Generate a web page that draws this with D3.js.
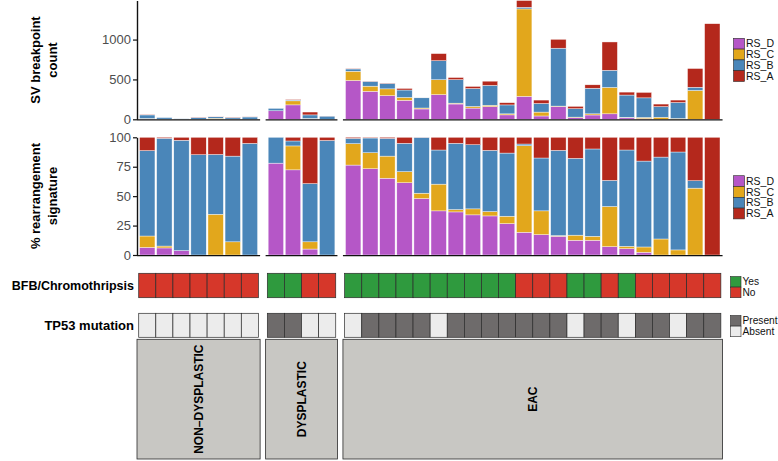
<!DOCTYPE html>
<html><head><meta charset="utf-8">
<script src="https://cdn.jsdelivr.net/npm/d3@7"></script>
<style>
body{margin:0;background:#fff}
svg{display:block}
text{font-family:"Liberation Sans",Arial,Helvetica,sans-serif}
</style>
</head><body><svg id="c" width="778" height="461"></svg>
<script>
// ---------------- DATA ----------------
const groups = ["NON-DYSPLASTIC", "DYSPLASTIC", "EAC"];
const groupLabels = ["NON\u2013DYSPLASTIC", "DYSPLASTIC", "EAC"];
const samples = ["ND1","ND2","ND3","ND4","ND5","ND6","ND7",
  "D1","D2","D3","D4",
  "EAC1","EAC2","EAC3","EAC4","EAC5","EAC6","EAC7","EAC8","EAC9","EAC10","EAC11",
  "EAC12","EAC13","EAC14","EAC15","EAC16","EAC17","EAC18","EAC19","EAC20","EAC21","EAC22"];
const sampleGroup = ["NON-DYSPLASTIC","NON-DYSPLASTIC","NON-DYSPLASTIC","NON-DYSPLASTIC","NON-DYSPLASTIC","NON-DYSPLASTIC","NON-DYSPLASTIC",
  "DYSPLASTIC","DYSPLASTIC","DYSPLASTIC","DYSPLASTIC",
  "EAC","EAC","EAC","EAC","EAC","EAC","EAC","EAC","EAC","EAC","EAC",
  "EAC","EAC","EAC","EAC","EAC","EAC","EAC","EAC","EAC","EAC","EAC"];
const signatures = ["RS_D", "RS_C", "RS_B", "RS_A"];   // bottom -> top
// SV breakpoint counts attributed to each rearrangement signature
const RS_D = [4, 1.5, 0.3, 0, 0, 0, 0,
  106.9, 180.8, 4.6, 0,
  486.7, 350.4, 296.5, 237.6, 129.6, 309, 191.8, 140.5, 158.7, 55.5, 287.6,
  41.7, 159.5, 20.3, 54.1, 68.9, 18.4, 7.8, 0, 0, 0, 0];
const RS_C = [6, 0.4, 0, 0, 12.8, 2.8, 0,
  0, 50.8, 5.6, 0,
  115.9, 65, 85.4, 36.4, 12.2, 187, 10.5, 21, 17.7, 13.1, 1096.6,
  48.7, 6, 7, 14.7, 330.8, 6.8, 15.2, 26, 10.4, 361.8, 0];
const RS_B = [45, 22.9, 7.5, 21.3, 18.8, 18.2, 29.4,
  30.1, 10.5, 45, 39.9,
  28.7, 59.8, 68.6, 93.3, 128, 239, 295, 224.5, 248.6, 111.7, 20.9,
  108.2, 726.2, 105.8, 320.9, 215.3, 278.9, 246, 132.9, 200.5, 40.1, 0];
const RS_A = [7, 0.2, 0.2, 3.7, 5.4, 4.0, 1.6,
  0, 7.8, 35.8, 1.1,
  5.7, 2.9, 4.1, 19.7, 0.3, 89, 26.7, 26, 53, 27.9, 84.9,
  42.4, 111.3, 29, 42.9, 355, 36.8, 68.1, 32.1, 30.1, 235.1, 1199];
const bfb = ["No","No","No","No","No","No","No",
  "Yes","Yes","No","No",
  "Yes","Yes","Yes","Yes","Yes","Yes","Yes","Yes","Yes","Yes","No",
  "No","No","Yes","Yes","No","Yes","No","No","No","No","No"];
const tp53 = ["Absent","Absent","Absent","Absent","Absent","Absent","Absent",
  "Present","Present","Absent","Absent",
  "Absent","Present","Present","Present","Present","Absent","Present","Present","Present","Present","Present",
  "Present","Present","Absent","Present","Present","Absent","Present","Present","Absent","Present","Present"];
const countTicks = [0, 500, 1000];
const pctTicks = [0, 25, 50, 75, 100];
const bfbLevels = ["Yes", "No"];
const tp53Levels = ["Present", "Absent"];

// ---------------- STYLE ----------------
const sigColor = {RS_D: "#B557C7", RS_C: "#E2A71C", RS_B: "#4A86B9", RS_A: "#B4281C"};
const bfbColor = {Yes: "#2F9A3E", No: "#D6372A"};
const tp53Color = {Present: "#6E6B6B", Absent: "#ECECEC"};
const font = '"Liberation Sans",Arial,Helvetica,sans-serif';

const svg = d3.select("#c");
const unit = 17.1, gap = 5.5, left = 137;
const countTop = 0.5, countBot = 119.3, pctTop = 137.3, pctBot = 255;
const bfbY = [273.3, 297.7], tpY = [313.3, 337.3], boxY = [339.3, 459];

// panels
const panels = [];
let cx = left;
groups.forEach((g, gi) => {
  const ids = samples.filter((s, i) => sampleGroup[i] === g);
  const w = (ids.length + 0.2) * unit;
  const xb = d3.scaleBand().domain(ids).range([cx, cx + w]).paddingInner(0.1).paddingOuter(0.15);
  const xt = d3.scaleBand().domain(ids).range([cx, cx + w]).paddingInner(0).paddingOuter(0.1);
  panels.push({g, label: groupLabels[gi], ids, x0: cx, x1: cx + w, xb, xt});
  cx += w + gap;
});
const panelOf = id => panels.find(p => p.ids.includes(id));

const rows = samples.map((s, i) => ({id: s, RS_D: RS_D[i], RS_C: RS_C[i], RS_B: RS_B[i], RS_A: RS_A[i]}));
const totals = rows.map(r => signatures.reduce((a, k) => a + r[k], 0));
const yCount = d3.scaleLinear().domain([0, d3.max(totals)]).range([countBot, countTop]);
const yPct = d3.scaleLinear().domain([0, 100]).range([pctBot, pctTop]);

const countStack = d3.stack().keys(signatures)(rows);
const pctStack = d3.stack().keys(signatures).offset(d3.stackOffsetExpand)(rows);

function drawBars(stack, y, scale) {
  const g = svg.append("g");
  stack.forEach(layer => {
    g.append("g").attr("fill", sigColor[layer.key])
      .selectAll("rect").data(layer).join("rect")
      .attr("x", d => panelOf(d.data.id).xb(d.data.id))
      .attr("width", d => panelOf(d.data.id).xb.bandwidth())
      .attr("y", d => y(d[1] * scale))
      .attr("height", d => Math.max(0, y(d[0] * scale) - y(d[1] * scale)))
      .attr("stroke", "#fff").attr("stroke-width", 0.5).attr("stroke-opacity", 0.8);
  });
}
drawBars(countStack, yCount, 1);
drawBars(pctStack, yPct, 100);

// baselines per panel
panels.forEach(p => {
  [countBot, pctBot].forEach(yy => {
    svg.append("line").attr("x1", p.x0).attr("x2", p.x1).attr("y1", yy + 0.6).attr("y2", yy + 0.6)
      .attr("stroke", "#111").attr("stroke-width", 1.4);
  });
});

// y axes
function yAxis(scale, ticks) {
  const g = svg.append("g").attr("transform", `translate(${left},0)`)
    .call(d3.axisLeft(scale).tickValues(ticks).tickSize(4).tickSizeOuter(0).tickPadding(2).tickFormat(d3.format("d")));
  g.select(".domain").attr("stroke", "#111").attr("stroke-width", 1.4);
  g.selectAll(".tick line").attr("stroke", "#111").attr("stroke-width", 1.2);
  g.selectAll(".tick text").attr("fill", "#4D4D4D").style("font-size", "13px").style("font-family", font);
}
yAxis(yCount, countTicks);
yAxis(yPct, pctTicks);

// axis titles
function ytitle(lines, cy) {
  const t = svg.append("text").attr("transform", `translate(0,${cy}) rotate(-90)`)
    .attr("text-anchor", "middle").style("font-weight", "bold").style("font-size", "13px").attr("fill", "#000");
  lines.forEach((l, i) => t.append("tspan").attr("x", 0).attr("y", 40 + i * 16.5).text(l));
}
ytitle(["SV breakpoint", "count"], 60);
ytitle(["% rearrangement", "signature"], 196);

// tiles
function tileRow(vals, colorMap, yr) {
  const g = svg.append("g");
  samples.forEach((s, i) => {
    const p = panelOf(s);
    g.append("rect").attr("x", p.xt(s)).attr("width", p.xt.bandwidth())
      .attr("y", yr[0]).attr("height", yr[1] - yr[0])
      .attr("fill", colorMap[vals[i]]).attr("stroke", "#2b2b2b").attr("stroke-width", 0.7);
  });
}
tileRow(bfb, bfbColor, bfbY);
tileRow(tp53, tp53Color, tpY);

svg.append("text").attr("x", 134).attr("y", (bfbY[0] + bfbY[1]) / 2).attr("dy", "0.36em")
  .attr("text-anchor", "end").style("font-weight", "bold").style("font-size", "12.5px").text("BFB/Chromothripsis");
svg.append("text").attr("x", 134).attr("y", (tpY[0] + tpY[1]) / 2).attr("dy", "0.36em")
  .attr("text-anchor", "end").style("font-weight", "bold").style("font-size", "13px").text("TP53 mutation");

// group boxes
panels.forEach(p => {
  svg.append("rect").attr("x", p.x0).attr("width", p.x1 - p.x0).attr("y", boxY[0]).attr("height", boxY[1] - boxY[0])
    .attr("fill", "#C8C7C3").attr("stroke", "#2b2b2b").attr("stroke-width", 0.8);
  const cxp = (p.x0 + p.x1) / 2, cyp = (boxY[0] + boxY[1]) / 2;
  svg.append("text").attr("transform", `translate(${cxp},${cyp}) rotate(-90)`).attr("dy", "0.36em")
    .attr("text-anchor", "middle").style("font-weight", "bold").style("font-size", "12px").text(p.label);
});

// legends
function legend(keys, colorMap, x, y0, step, size, fs) {
  keys.forEach((k, i) => {
    svg.append("rect").attr("x", x).attr("y", y0 + i * step).attr("width", size).attr("height", step)
      .attr("fill", colorMap[k]).attr("stroke", "#2b2b2b").attr("stroke-width", 0.6);
    svg.append("text").attr("x", x + size + 1.5).attr("y", y0 + i * step + step / 2).attr("dy", "0.36em")
      .style("font-size", fs + "px").attr("fill", "#111").text(k);
  });
}
const legKeys = signatures.slice();
legend(legKeys, sigColor, 733.5, 38.3, 10.8, 11, 10.5);
legend(legKeys, sigColor, 733.5, 175.7, 10.8, 11, 10.5);
legend(bfbLevels, bfbColor, 730.5, 276.5, 10.6, 10.5, 10.2);
legend(tp53Levels, tp53Color, 730.5, 315.5, 10.6, 10.5, 10.2);
</script>
</body></html>
